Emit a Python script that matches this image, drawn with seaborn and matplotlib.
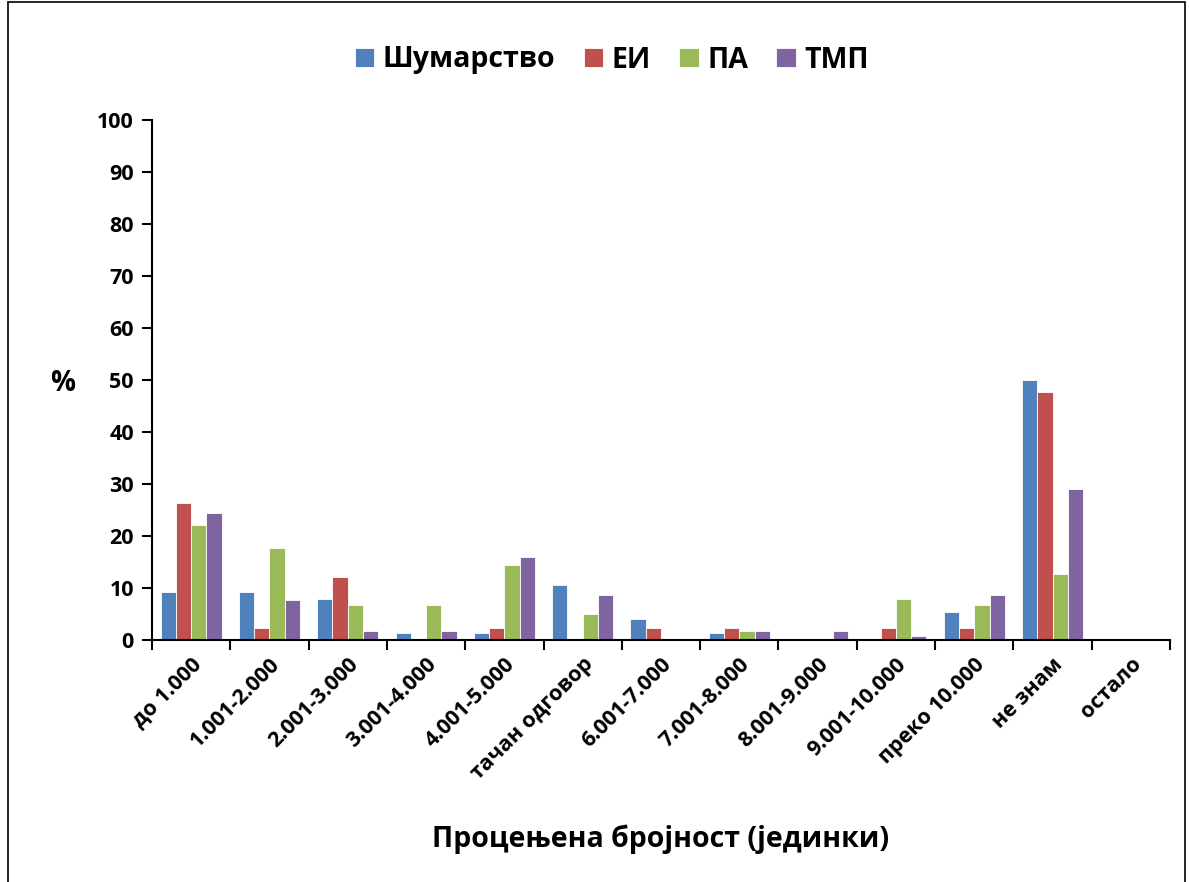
import matplotlib
matplotlib.use("Agg")
import matplotlib.pyplot as plt
import seaborn as sns
import pandas as pd
import numpy as np
from matplotlib.patches import Rectangle

categories = ["до 1.000", "1.001-2.000", "2.001-3.000", "3.001-4.000", "4.001-5.000",
              "тачан одговор", "6.001-7.000", "7.001-8.000", "8.001-9.000",
              "9.001-10.000", "преко 10.000", "не знам", "остало"]
series_names = ["Шумарство", "ЕИ", "ПА", "ТМП"]
sumarstvo = [9.2, 9.2, 7.9, 1.3, 1.3, 10.5, 4.0, 1.3, 0.0, 0.0, 5.3, 50.0, 0.0]
ei = [26.3, 2.3, 12.1, 0.0, 2.3, 0.0, 2.3, 2.3, 0.0, 2.3, 2.3, 47.6, 0.0]
pa = [22.1, 17.6, 6.7, 6.7, 14.4, 5.0, 0.0, 1.7, 0.0, 7.9, 6.7, 12.7, 0.0]
tmp = [24.4, 7.7, 1.7, 1.7, 16.0, 8.6, 0.0, 1.7, 1.7, 0.8, 8.6, 29.0, 0.0]
colors = ["#4F81BD", "#C0504D", "#9BBB59", "#8064A2"]

sns.set_theme(style="white")
plt.rcParams['font.family'] = ['Open Sans', 'DejaVu Sans']
plt.rcParams['font.weight'] = 'bold'
plt.rcParams['text.color'] = 'black'
plt.rcParams['axes.labelcolor'] = 'black'
plt.rcParams['xtick.color'] = 'black'
plt.rcParams['ytick.color'] = 'black'

rows = []
for name, vals in zip(series_names, [sumarstvo, ei, pa, tmp]):
    for c, v in zip(categories, vals):
        rows.append({"cat": c, "series": name, "val": v})
df = pd.DataFrame(rows)

fig = plt.figure(figsize=(11.89, 8.82), dpi=100)
ax = fig.add_axes([152/1189, 1 - 640/882, (1170-152)/1189, (640-120)/882])
sns.barplot(data=df, x="cat", y="val", hue="series", order=categories,
            hue_order=series_names, palette=colors, width=0.78, saturation=1,
            edgecolor="white", linewidth=0.6, ax=ax, legend=True)

ax.set_ylim(0, 100)
ax.set_xlim(-0.5, len(categories) - 0.5)
ax.set_yticks(np.arange(0, 101, 10))
ax.set_yticklabels([str(v) for v in range(0, 101, 10)], fontsize=15.5,
                   fontweight='bold', color='black')
ax.set_xticks(np.arange(-0.5, len(categories), 1.0))
ax.set_xticklabels([])
ax.set_xticks(np.arange(len(categories)), minor=True)
ax.set_xticklabels(categories, minor=True, rotation=45, ha='right',
                   rotation_mode='anchor', fontsize=15.5, fontweight='bold',
                   color='black')
ax.tick_params(axis='x', which='minor', bottom=False, length=0, pad=10)
ax.tick_params(axis='x', which='major', bottom=True, length=7, width=1.5,
               direction='out', color='black')
ax.tick_params(axis='y', left=True, length=7, width=1.5, direction='out',
               color='black', pad=6)
for s in ["top", "right"]:
    ax.spines[s].set_visible(False)
for s in ["left", "bottom"]:
    ax.spines[s].set_color("black")
    ax.spines[s].set_linewidth(1.5)

ax.set_xlabel("Процењена бројност (јединки)", fontsize=20.5, fontweight='bold',
              color='black')
ax.set_ylabel("%", fontsize=20, fontweight='bold', rotation=0, color='black',
              va='center')
ax.yaxis.set_label_coords(-0.088, 0.494)
ax.xaxis.set_label_coords(0.5, -0.355)

handles, labels = ax.get_legend_handles_labels()
leg = ax.legend(handles, labels, loc='center', bbox_to_anchor=(612/1189, 1 - 60/882),
                bbox_transform=fig.transFigure, ncol=4, frameon=False,
                prop={'size': 20.5, 'weight': 'bold'}, handlelength=0.67,
                handleheight=0.67, columnspacing=1.0, handletextpad=0.3)
for t in leg.get_texts():
    t.set_color('black')

fig.patches.append(Rectangle((8/1189, -0.01), (1185-8)/1189, 1 - 2/882 + 0.01,
                             transform=fig.transFigure, fill=False,
                             edgecolor='black', linewidth=1.2))

fig.savefig("out.png", dpi=100)
